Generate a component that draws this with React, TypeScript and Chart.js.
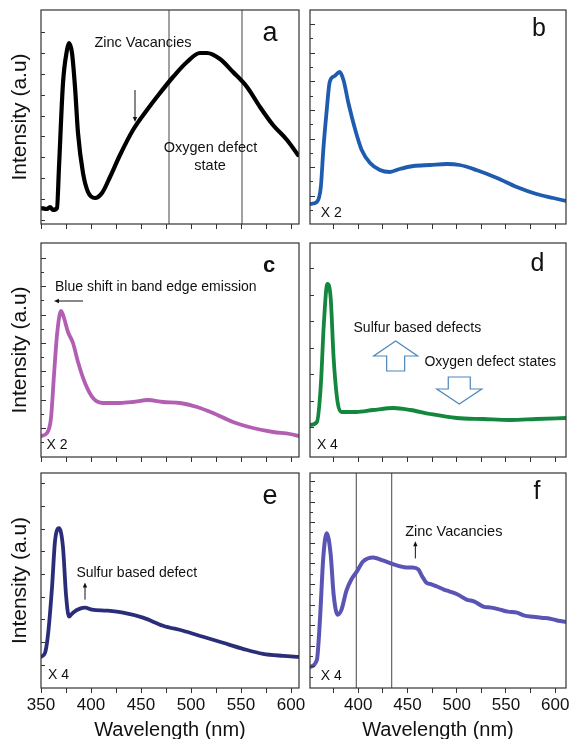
import React, { useEffect, useRef } from 'react';
import { Chart, registerables } from 'chart.js';

Chart.register(...registerables);

const FONT = '"Liberation Sans", Arial, Helvetica, sans-serif';

// ---------- data (wavelength in nm, intensity in a.u.) ----------
const wavelengthTickLabels = [350, 400, 450, 500, 550, 600];

const aWavelength = [350, 356, 359, 362, 366, 368, 372, 376, 378, 381, 384, 387, 392, 397, 404, 411, 419, 429, 442, 456, 469, 482, 496, 509, 516, 529, 542, 556, 569, 582, 596, 607];
const aIntensity = [16, 15, 17, 14, 16, 57, 141, 174, 181, 171, 137, 91, 51, 32, 26, 31, 47, 69, 94, 114, 131, 147, 162, 171, 171, 165, 152, 137, 117, 99, 84, 69];

const bWavelength = [351, 358, 362, 364.5, 368, 371, 376, 381, 385, 390, 397, 403.5, 412, 422, 432, 442, 456, 473, 490, 503, 520, 541, 561, 581, 598, 611];
const bIntensity = [20, 22, 37, 74, 114, 142, 148, 152, 144, 121, 94, 74, 61, 54, 52, 55, 58, 59, 60, 59, 54, 46, 37, 30, 26, 23];

const cWavelength = [350, 356, 360, 363, 366, 370, 373, 377, 382, 387, 394, 402, 412, 429, 442, 457, 472, 489, 506, 522, 542, 562, 582, 599, 608];
const cIntensity = [21, 24, 39, 82, 122, 146, 139, 125, 114, 95, 74, 59, 54, 54, 55, 57, 55, 54, 50, 44, 35, 29, 25, 23, 21];

const dWavelength = [351, 358, 362, 365, 368.6, 372, 375, 379, 383, 398, 415, 436, 453, 473, 500, 527, 554, 581, 611];
const dIntensity = [32, 35, 72, 132, 173, 159, 99, 55, 45, 45, 47, 49, 47, 43, 39, 38, 37, 38, 39];

const eWavelength = [350, 354, 357, 361, 364, 368, 372, 375, 378, 382, 389, 394, 401, 416, 432, 452, 472, 492, 512, 532, 552, 572, 592, 608];
const eIntensity = [31, 35, 53, 100, 146, 159, 140, 93, 71, 75, 79, 80, 78, 77, 75, 70, 62, 57, 51, 45, 39, 34, 32, 31];

const fWavelength = [351, 358, 361, 364.5, 368, 372, 375, 379, 383, 388, 393, 398, 405, 415, 425, 436, 443, 449, 455, 461, 465, 469, 475, 480, 487, 493, 501, 510, 518, 527, 535, 544, 552, 561, 569, 578, 586, 595, 603, 611];
const fIntensity = [21, 28, 66, 130, 154, 133, 93, 73, 78, 97, 108, 115, 126, 130, 127, 123, 121, 120, 120, 118, 111, 105, 103, 101, 98, 96, 93, 88, 86, 81, 80, 78, 76, 75, 72, 71, 70, 69, 67, 66];

const aMarkers = [478, 551];
const fMarkers = [398, 434];

// ---------- panels ----------
type Txt = { text: string; x: number; y: number; size: number; bold?: boolean; align?: CanvasTextAlign };
type Arr = { x1: number; y1: number; x2: number; y2: number };
type Block = { x: number; tail: number; tip: number; shaft: number; head: number; headLen: number };

type PanelCfg = {
  id: string;
  left: number; top: number; w: number; h: number;
  pad: { top: number; left: number; right: number; bottom: number };
  xMin: number; xMax: number; xHeight: number; xLabels: boolean;
  yTitle: boolean;
  wl: number[]; it: number[]; color: string; lw: number;
  markers: number[];
  yTickStart: number; yTickStep: number; yTickCount: number; yTickAlt: boolean;
  texts: Txt[]; arrows: Arr[]; blocks: Block[];
};

const LEFT = { left: 0, w: 310, pad: { left: 0, right: 11 }, xMin: 350, xMax: 608, yTitle: true };
const RIGHT = { left: 300, w: 272, pad: { left: 10, right: 6 }, xMin: 351, xMax: 611, yTitle: false };
const ROW1 = { top: 0, h: 230, xHeight: 6, xLabels: false };
const ROW2 = { top: 233, h: 230, xHeight: 6, xLabels: false };
const ROW3 = { top: 463, h: 276, xHeight: 51, xLabels: true };

function mk(col: any, row: any, rest: any): PanelCfg {
  return {
    ...rest,
    left: col.left, w: col.w, top: row.top, h: row.h,
    pad: { top: 10, bottom: 0, left: col.pad.left, right: col.pad.right },
    xMin: col.xMin, xMax: col.xMax, yTitle: col.yTitle,
    xHeight: row.xHeight, xLabels: row.xLabels,
  };
}

const panels: PanelCfg[] = [
  mk(LEFT, ROW1, {
    id: 'a', wl: aWavelength, it: aIntensity, color: '#000000', lw: 4.2, markers: aMarkers,
    yTickStart: 4, yTickStep: 20.9, yTickCount: 10, yTickAlt: false,
    texts: [
      { text: 'a', x: 579, y: 190, size: 27 },
      { text: 'Zinc Vacancies', x: 452, y: 181, size: 14.5 },
      { text: 'Oxygen defect', x: 519.5, y: 76, size: 14.5 },
      { text: 'state', x: 519, y: 58, size: 14.5 },
    ],
    arrows: [{ x1: 444, y1: 134, x2: 444, y2: 102 }],
    blocks: [],
  }),
  mk(RIGHT, ROW1, {
    id: 'b', wl: bWavelength, it: bIntensity, color: '#1f5cb0', lw: 3.8, markers: [],
    yTickStart: 14, yTickStep: 14.3, yTickCount: 14, yTickAlt: true,
    texts: [
      { text: 'b', x: 583.5, y: 195, size: 25 },
      { text: 'X 2', x: 362, y: 11, size: 14, align: 'left' },
    ],
    arrows: [], blocks: [],
  }),
  mk(LEFT, ROW2, {
    id: 'c', wl: cWavelength, it: cIntensity, color: '#b25eb2', lw: 3.8, markers: [],
    yTickStart: 14.7, yTickStep: 14.2, yTickCount: 14, yTickAlt: true,
    texts: [
      { text: 'c', x: 578, y: 191, size: 22, bold: true },
      { text: 'Blue shift in band edge emission', x: 364, y: 170, size: 14, align: 'left' },
      { text: 'X 2', x: 355.5, y: 12, size: 14, align: 'left' },
    ],
    arrows: [{ x1: 392, y1: 156, x2: 363, y2: 156 }],
    blocks: [],
  }),
  mk(RIGHT, ROW2, {
    id: 'd', wl: dWavelength, it: dIntensity, color: '#13873d', lw: 3.8, markers: [],
    yTickStart: 30, yTickStep: 26.5, yTickCount: 7, yTickAlt: false,
    texts: [
      { text: 'd', x: 582, y: 193, size: 25 },
      { text: 'Sulfur based defects', x: 460, y: 129, size: 14 },
      { text: 'Oxygen defect states', x: 534, y: 95, size: 14 },
      { text: 'X 4', x: 358, y: 12, size: 14, align: 'left' },
    ],
    arrows: [],
    blocks: [
      { x: 438, tail: 86, tip: 116, shaft: 9, head: 22, headLen: 15 },
      { x: 502.6, tail: 80, tip: 53, shaft: 11, head: 22.5, headLen: 15 },
    ],
  }),
  mk(LEFT, ROW3, {
    id: 'e', wl: eWavelength, it: eIntensity, color: '#2a2e7a', lw: 3.8, markers: [],
    yTickStart: 23, yTickStep: 22.6, yTickCount: 9, yTickAlt: false,
    texts: [
      { text: 'e', x: 579, y: 191, size: 27 },
      { text: 'Sulfur based defect', x: 445.7, y: 114, size: 14 },
      { text: 'X 4', x: 357, y: 13, size: 14, align: 'left' },
    ],
    arrows: [{ x1: 394, y1: 88, x2: 394, y2: 105 }],
    blocks: [],
  }),
  mk(RIGHT, ROW3, {
    id: 'f', wl: fWavelength, it: fIntensity, color: '#5a55b5', lw: 4, markers: fMarkers,
    yTickStart: 11.3, yTickStep: 10.25, yTickCount: 20, yTickAlt: true,
    texts: [
      { text: 'f', x: 581.5, y: 195, size: 25 },
      { text: 'Zinc Vacancies', x: 497, y: 155, size: 14.5 },
      { text: 'X 4', x: 362, y: 12, size: 14, align: 'left' },
    ],
    arrows: [{ x1: 458, y1: 129, x2: 458, y2: 146 }],
    blocks: [],
  }),
];

function buildConfig(cfg: PanelCfg): any {
  const yTicks: number[] = [];
  for (let i = 0; i < cfg.yTickCount; i++) yTicks.push(cfg.yTickStart + i * cfg.yTickStep);

  const decor = {
    id: 'decor' + cfg.id,
    afterDatasetsDraw(chart: any) {
      const { ctx, chartArea: ca } = chart;
      const xs = chart.scales.x;
      const ys = chart.scales.y;
      ctx.save();
      // frame
      ctx.strokeStyle = '#333';
      ctx.lineWidth = 1.2;
      ctx.strokeRect(ca.left, ca.top, ca.right - ca.left, ca.bottom - ca.top);
      // inward y ticks
      ctx.lineWidth = 1;
      ctx.strokeStyle = '#333';
      yTicks.forEach((v, i) => {
        const py = Math.round(ys.getPixelForValue(v)) + 0.5;
        const len = cfg.yTickAlt ? (i % 2 === 1 ? 5 : 3) : 4;
        ctx.beginPath();
        ctx.moveTo(ca.left, py);
        ctx.lineTo(ca.left + len, py);
        ctx.stroke();
      });
      // texts
      ctx.fillStyle = '#111';
      ctx.textBaseline = 'middle';
      cfg.texts.forEach((t) => {
        ctx.font = `${t.bold ? 'bold ' : ''}${t.size}px ${FONT}`;
        ctx.textAlign = t.align || 'center';
        ctx.fillText(t.text, xs.getPixelForValue(t.x), ys.getPixelForValue(t.y));
      });
      // thin arrows
      cfg.arrows.forEach((a) => {
        const x1 = xs.getPixelForValue(a.x1), y1 = ys.getPixelForValue(a.y1);
        const x2 = xs.getPixelForValue(a.x2), y2 = ys.getPixelForValue(a.y2);
        const ang = Math.atan2(y2 - y1, x2 - x1);
        ctx.strokeStyle = '#111';
        ctx.lineWidth = 1;
        ctx.beginPath();
        ctx.moveTo(x1, y1);
        ctx.lineTo(x2 - 4 * Math.cos(ang), y2 - 4 * Math.sin(ang));
        ctx.stroke();
        ctx.beginPath();
        ctx.moveTo(x2, y2);
        ctx.lineTo(x2 - 5 * Math.cos(ang) + 2.2 * Math.sin(ang), y2 - 5 * Math.sin(ang) - 2.2 * Math.cos(ang));
        ctx.lineTo(x2 - 5 * Math.cos(ang) - 2.2 * Math.sin(ang), y2 - 5 * Math.sin(ang) + 2.2 * Math.cos(ang));
        ctx.closePath();
        ctx.fillStyle = '#111';
        ctx.fill();
      });
      // block arrows
      cfg.blocks.forEach((b) => {
        const cx = xs.getPixelForValue(b.x);
        const yt = ys.getPixelForValue(b.tail);
        const yp = ys.getPixelForValue(b.tip);
        const dir = yp > yt ? 1 : -1;
        const hb = yp - dir * b.headLen;
        ctx.beginPath();
        ctx.moveTo(cx - b.shaft, yt);
        ctx.lineTo(cx - b.shaft, hb);
        ctx.lineTo(cx - b.head, hb);
        ctx.lineTo(cx, yp);
        ctx.lineTo(cx + b.head, hb);
        ctx.lineTo(cx + b.shaft, hb);
        ctx.lineTo(cx + b.shaft, yt);
        ctx.closePath();
        ctx.fillStyle = '#ffffff';
        ctx.fill();
        ctx.strokeStyle = '#4f86b9';
        ctx.lineWidth = 1.2;
        ctx.stroke();
      });
      ctx.restore();
    },
  };

  const datasets: any[] = [
    {
      data: cfg.wl.map((x, i) => ({ x, y: cfg.it[i] })),
      borderColor: cfg.color,
      borderWidth: cfg.lw,
      pointRadius: 0,
      fill: false,
      cubicInterpolationMode: 'monotone',
      borderCapStyle: 'round',
      borderJoinStyle: 'round',
    },
    ...cfg.markers.map((m) => ({
      data: [{ x: m, y: 0 }, { x: m, y: 214 }],
      borderColor: '#444',
      borderWidth: 1,
      pointRadius: 0,
      fill: false,
    })),
  ];

  return {
    type: 'line',
    data: { datasets },
    options: {
      animation: false,
      responsive: false,
      events: [],
      layout: { padding: cfg.pad },
      plugins: { legend: { display: false }, tooltip: { enabled: false } },
      scales: {
        x: {
          type: 'linear',
          min: cfg.xMin,
          max: cfg.xMax,
          ticks: {
            display: cfg.xLabels,
            stepSize: 25,
            includeBounds: false,
            autoSkip: false,
            maxRotation: 0,
            padding: 2,
            color: '#111',
            font: { size: 17, family: FONT },
            callback: (v: any) => (wavelengthTickLabels.includes(Number(v)) ? String(v) : ''),
          },
          grid: { display: true, drawOnChartArea: false, drawTicks: true, tickLength: 5, color: '#333', lineWidth: 1 },
          border: { display: false },
          title: {
            display: cfg.xLabels,
            text: 'Wavelength (nm)',
            color: '#111',
            font: { size: 20, family: FONT },
            padding: { top: 0, bottom: -3 },
          },
          afterFit: (s: any) => { s.height = cfg.xHeight; },
        },
        y: {
          type: 'linear',
          min: 0,
          max: 214,
          display: cfg.yTitle,
          ticks: { display: false },
          grid: { display: false },
          border: { display: false },
          title: {
            display: cfg.yTitle,
            text: 'Intensity (a.u)',
            color: '#111',
            font: { size: 21, family: FONT },
            padding: { top: 8, bottom: 0 },
          },
          afterFit: (s: any) => { s.width = cfg.yTitle ? 41 : 0; },
        },
      },
    },
    plugins: [decor],
  };
}

function Panel({ cfg }: { cfg: PanelCfg }) {
  const ref = useRef<HTMLCanvasElement>(null);
  useEffect(() => {
    const chart = new Chart(ref.current as HTMLCanvasElement, buildConfig(cfg));
    return () => chart.destroy();
  }, [cfg]);
  return (
    <canvas
      ref={ref}
      width={cfg.w}
      height={cfg.h}
      style={{ position: 'absolute', left: cfg.left, top: cfg.top, width: cfg.w, height: cfg.h }}
    />
  );
}

export default function App() {
  return (
    <div style={{ position: 'fixed', left: 0, top: 0, width: 572, height: 739, background: '#ffffff', overflow: 'hidden' }}>
      {panels.map((p) => (
        <Panel key={p.id} cfg={p} />
      ))}
    </div>
  );
}
